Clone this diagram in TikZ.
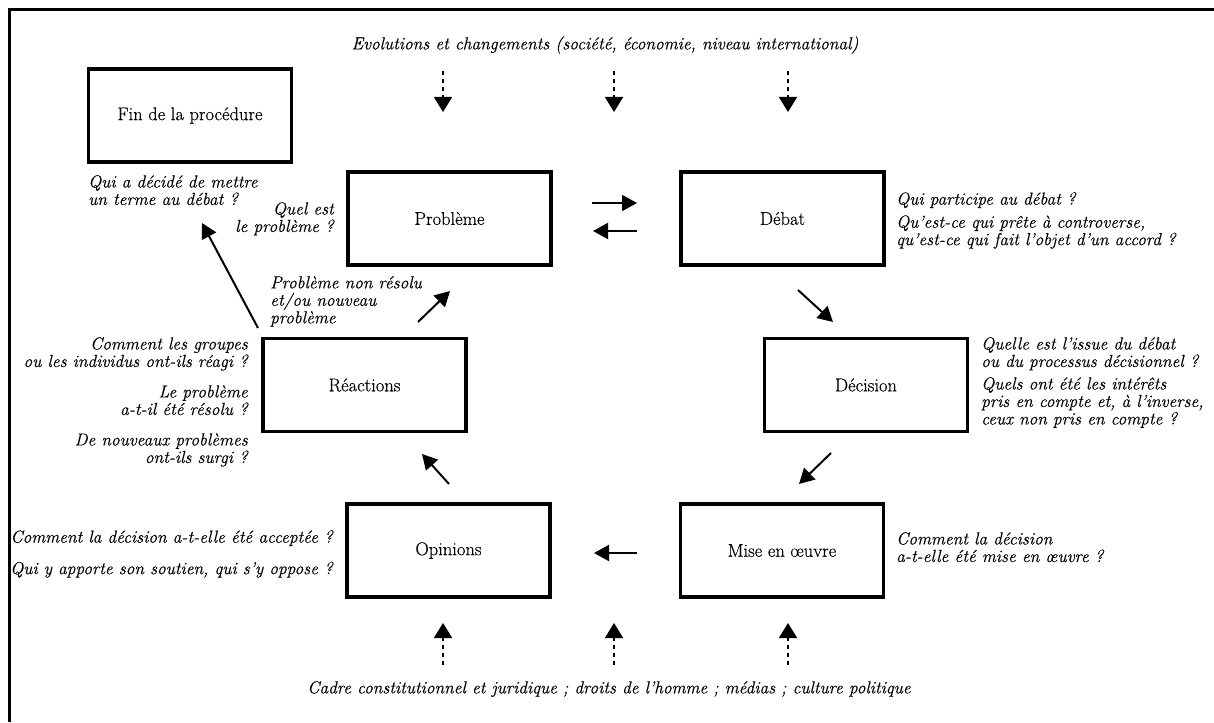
\documentclass[tikz,border=0pt]{standalone}
\usepackage{fontspec}
\setmainfont{Latin Modern Roman}[FakeBold=0.35]
\usetikzlibrary{arrows.meta,calc}
\begin{document}
\begin{tikzpicture}[x=1pt,y=-1pt,
  box/.style={draw,line width=3.8pt,minimum width=203pt,minimum height=93pt,inner sep=0pt,font=\fontsize{18.5}{20}\selectfont},
  qtext/.style={inner sep=0pt,font=\fontsize{17.4}{17.5}\selectfont\itshape},
  arr/.style={line width=2pt,-{Triangle[length=15pt,width=16pt]}},
  darr/.style={line width=1.7pt,dash pattern=on 4pt off 4pt,-{Triangle[length=15pt,width=18pt]}},
]
\useasboundingbox (0,0) rectangle (1214,722);
\draw[line width=3pt] (9.5,722) -- (9.5,10) -- (1214,10);

% boxes
\node[box] (fin) at (190,115.5) {Fin de la procédure};
\node[box] (prob) at (449.5,218.5) {Problème};
\node[box] (deb) at (782.5,218.5) {Débat};
\node[box] (dec) at (866,385) {Décision};
\node[box] (mise) at (782,550.5) {Mise en \oe uvre};
\node[box] (opi) at (448.5,550.5) {Opinions};
\node[box] (rea) at (364.5,385) {Réactions};

% top and bottom texts
\node[qtext] (top) at (605,45) {Evolutions et changements (société, économie, niveau international)};
\node[qtext] (bot) at (609,689) {Cadre constitutionnel et juridique ; droits de l'homme ; médias ; culture politique};
\coordinate (d1) at (443,71); \coordinate (d2) at (614,71); \coordinate (d3) at (788,71);
\coordinate (u1) at (443,665); \coordinate (u2) at (614,665); \coordinate (u3) at (788,665);
\draw[darr] (d1) -- ++(0,41);
\draw[darr] (d2) -- ++(0,41);
\draw[darr] (d3) -- ++(0,41);
\draw[darr] (u1) -- ++(0,-42);
\draw[darr] (u2) -- ++(0,-42);
\draw[darr] (u3) -- ++(0,-42);

% side texts
\node[qtext,anchor=north west,align=left] (tfin) at (88,175) {Qui a décidé de mettre\\un terme au débat ?};
\node[qtext,anchor=north east,align=right] (tprob) at (334,202) {Quel est\\le problème ?};
\node[qtext,anchor=north west,align=left] (tdeb) at (896,192) {Qui participe au débat ?\\[5.5pt]Qu'est-ce qui prête à controverse,\\qu'est-ce qui fait l'objet d'un accord ?};
\node[qtext,anchor=north west,align=left] (tdec) at (981,337) {Quelle est l'issue du débat\\ou du processus décisionnel ?\\[5pt]Quels ont été les intérêts\\pris en compte et, à l'inverse,\\ceux non pris en compte ?};
\node[qtext,anchor=north west,align=left] (tmise) at (896,532) {Comment la décision\\a-t-elle été mise en \oe uvre ?};
\node[qtext,anchor=north east,align=right] (topi) at (333,530) {Comment la décision a-t-elle été acceptée ?\\[14pt]Qui y apporte son soutien, qui s'y oppose ?};
\node[qtext,anchor=north east,align=right] (trea) at (248,337) {Comment les groupes\\ou les individus ont-ils réagi ?\\[13pt]Le problème\\a-t-il été résolu ?\\[13pt]De nouveaux problèmes\\ont-ils surgi ?};
\node[qtext,anchor=north west,align=left] (tnr) at (270,276) {Problème non résolu\\et/ou nouveau\\problème};

% arrows
\draw[arr] ($(prob.center)+(142.5,-15.5)$) -- ($(deb.center)+(-145.5,-15.5)$);
\draw[arr] ($(deb.center)+(-145.5,12.5)$) -- ($(prob.center)+(143.5,12.5)$);
\draw[arr] ($(deb.center)+(15.5,71.5)$) -- ($(dec.center)+(-33,-63)$);
\draw[arr] ($(dec.center)+(-35,68)$) -- ($(mise.center)+(17,-66.5)$);
\draw[arr] ($(mise.center)+(-145,2.5)$) -- ($(opi.center)+(145.5,2.5)$);
\draw[arr] ($(opi.center)+(0.5,-66.5)$) -- ($(rea.center)+(57.5,69)$);
\draw[arr] ($(rea.center)+(53.5,-63)$) -- ($(prob.center)+(0.5,72.5)$);
\draw[arr] ($(rea.center)+(-106.5,-57)$) -- ($(fin.center)+(12,107.5)$);
\end{tikzpicture}
\end{document}
